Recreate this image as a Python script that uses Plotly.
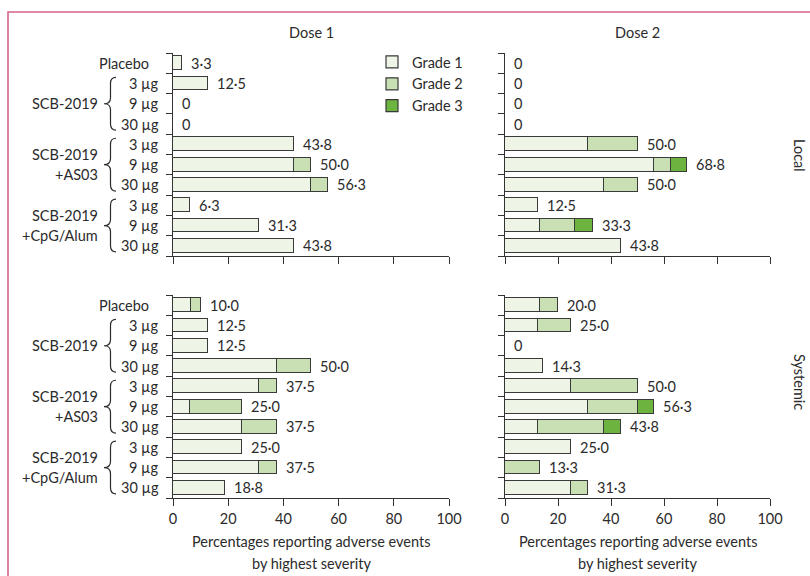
import plotly.graph_objects as go

# Row labels (top to bottom) shared by every panel
row_labels = ["Placebo", "3 µg", "9 µg", "30 µg", "3 µg", "9 µg", "30 µg", "3 µg", "9 µg", "30 µg"]
# Vaccine groups: (label lines, first row, last row)
groups = [
    (["SCB-2019"], 1, 3),
    (["SCB-2019", "+AS03"], 4, 6),
    (["SCB-2019", "+CpG/Alum"], 7, 9),
]
grade_names = ["Grade 1", "Grade 2", "Grade 3"]
grade_colors = ["#eef5e7", "#c9e0b4", "#6cb33f"]

# Percentages reporting adverse events by highest severity
local_dose1_g1 = [3.3, 12.5, 0, 0, 43.8, 43.8, 50.0, 6.3, 31.3, 43.8]
local_dose1_g2 = [0, 0, 0, 0, 0, 6.2, 6.3, 0, 0, 0]
local_dose1_g3 = [0, 0, 0, 0, 0, 0, 0, 0, 0, 0]

local_dose2_g1 = [0, 0, 0, 0, 31.3, 56.3, 37.5, 12.5, 13.3, 43.8]
local_dose2_g2 = [0, 0, 0, 0, 18.7, 6.2, 12.5, 0, 13.3, 0]
local_dose2_g3 = [0, 0, 0, 0, 0, 6.3, 0, 0, 6.7, 0]

systemic_dose1_g1 = [6.7, 12.5, 12.5, 37.5, 31.3, 6.3, 25.0, 25.0, 31.3, 18.8]
systemic_dose1_g2 = [3.3, 0, 0, 12.5, 6.2, 18.7, 12.5, 0, 6.2, 0]
systemic_dose1_g3 = [0, 0, 0, 0, 0, 0, 0, 0, 0, 0]

systemic_dose2_g1 = [13.3, 12.5, 0, 14.3, 25.0, 31.3, 12.5, 25.0, 0, 25.0]
systemic_dose2_g2 = [6.7, 12.5, 0, 0, 25.0, 18.7, 25.0, 0, 13.3, 6.3]
systemic_dose2_g3 = [0, 0, 0, 0, 0, 6.3, 6.3, 0, 0, 0]

x_ticks = [0, 20, 40, 60, 80, 100]

FONT = "Lato"
FS = 14.5
TXT = "#2b2b2b"
LINE = "#333333"
W, H = 810, 576

# Panel placement in pixels: (left, right, top, bottom)
panels = [
    dict(data=[local_dose1_g1, local_dose1_g2, local_dose1_g3], box=(173, 449, 53, 256), xa="x", ya="y", labels_left=True, xticklabels=False),
    dict(data=[local_dose2_g1, local_dose2_g2, local_dose2_g3], box=(505, 770, 53, 256), xa="x2", ya="y2", labels_left=False, xticklabels=False),
    dict(data=[systemic_dose1_g1, systemic_dose1_g2, systemic_dose1_g3], box=(173, 449, 295, 498), xa="x3", ya="y3", labels_left=True, xticklabels=True),
    dict(data=[systemic_dose2_g1, systemic_dose2_g2, systemic_dose2_g3], box=(505, 770, 295, 498), xa="x4", ya="y4", labels_left=False, xticklabels=True),
]


def px_x(p):
    return p / W


def px_y(p):
    return 1 - p / H


def fmt(v):
    return "0" if round(v, 1) == 0 else f"{v:.1f}".replace(".", "·")


def text_font(size=FS):
    return dict(family=FONT, size=size, color=TXT)


fig = go.Figure()
annotations = []
shapes = []
rows = list(range(len(row_labels)))

for pi, p in enumerate(panels):
    for gi in range(3):
        vals = [v if v > 0 else None for v in p["data"][gi]]
        fig.add_trace(go.Bar(
            x=vals, y=rows, orientation="h", width=0.68,
            name=grade_names[gi], legendgroup=grade_names[gi], showlegend=(pi == 0),
            marker=dict(color=grade_colors[gi], line=dict(color="#3a3a3a", width=1.2)),
            xaxis=p["xa"], yaxis=p["ya"], hoverinfo="skip",
        ))
    totals = [sum(vals) for vals in zip(*p["data"])]
    for r, t in zip(rows, totals):
        annotations.append(dict(
            x=t, y=r, xref=p["xa"], yref=p["ya"], text=fmt(t), showarrow=False,
            xanchor="left", yanchor="middle", xshift=7, font=text_font(),
        ))

    l, rgt, top, bot = p["box"]
    n = p["xa"][1:] or ""
    yn = p["ya"][1:] or ""
    fig.layout["xaxis" + n] = dict(
        domain=[px_x(l), px_x(rgt)], anchor=p["ya"], range=[0, 100], automargin=False,
        tickvals=x_ticks, showticklabels=p["xticklabels"], ticks="outside", ticklen=7,
        tickwidth=1.2, tickcolor=LINE, showline=True, linecolor=LINE, linewidth=1.2,
        showgrid=False, zeroline=False, fixedrange=True,
        tickfont=text_font(),
    )
    fig.layout["yaxis" + yn] = dict(
        domain=[px_y(bot), px_y(top)], anchor=p["xa"], range=[9.5, -0.5], automargin=False,
        tickvals=[r - 0.5 for r in rows] + [9.5], showticklabels=False,
        ticks="outside", ticklen=6, tickwidth=1.2, tickcolor=LINE,
        showline=True, linecolor=LINE, linewidth=1.2,
        showgrid=False, zeroline=False, fixedrange=True,
    )

    if p["labels_left"]:
        for r, lab in zip(rows, row_labels):
            right_edge = 151 if r == 0 else 161
            annotations.append(dict(
                x=px_x(right_edge), y=r, xref="paper", yref=p["ya"], text=lab, showarrow=False,
                xanchor="right", yanchor="middle", font=text_font(),
            ))
        for lines, r0, r1 in groups:
            mid = (r0 + r1) / 2
            offs = [0] if len(lines) == 1 else [-0.5, 0.5]
            for line, o in zip(lines, offs):
                annotations.append(dict(
                    x=px_x(100), y=mid + o, xref="paper", yref=p["ya"], text=line, showarrow=False,
                    xanchor="right", yanchor="middle", font=text_font(),
                ))
            # curly brace spanning the group's rows
            xr, xs, xt = px_x(116), px_x(110.5), px_x(104)
            y0, y1, c = r0 - 0.3, r1 + 0.3, 0.3
            path = (f"M {xr},{y0} Q {xs},{y0} {xs},{y0 + c} L {xs},{mid - c} "
                    f"Q {xs},{mid} {xt},{mid} Q {xs},{mid} {xs},{mid + c} "
                    f"L {xs},{y1 - c} Q {xs},{y1} {xr},{y1}")
            shapes.append(dict(type="path", path=path, xref="paper", yref=p["ya"],
                               line=dict(color=TXT, width=1.2)))

# Column titles
for label, cx in [("Dose 1", 311), ("Dose 2", 637.5)]:
    annotations.append(dict(x=px_x(cx), y=px_y(33), xref="paper", yref="paper", text=label,
                            xanchor="center", yanchor="middle", showarrow=False, font=text_font()))
# Row titles
for label, cy in [("Local", 155), ("Systemic", 382)]:
    annotations.append(dict(x=px_x(800), y=px_y(cy), xref="paper", yref="paper", text=label,
                            xanchor="center", yanchor="middle", textangle=90, showarrow=False,
                            font=text_font()))
# x-axis titles
for cx in [311, 637.5]:
    for text, cy in [("Percentages reporting adverse events", 541), ("by highest severity", 563)]:
        annotations.append(dict(x=px_x(cx), y=px_y(cy), xref="paper", yref="paper", text=text,
                                xanchor="center", yanchor="middle", showarrow=False, font=text_font()))

# Frame along the top and left edges
shapes.append(dict(type="path", xref="paper", yref="paper",
                   path=f"M {px_x(8)},0 L {px_x(8)},{px_y(12)} L 1,{px_y(12)}",
                   line=dict(color="#d5668c", width=1.6)))

fig.update_layout(
    template="none",
    width=W, height=H, autosize=False, margin=dict(l=0, r=0, t=0, b=0, pad=0),
    paper_bgcolor="white", plot_bgcolor="white",
    barmode="stack", bargap=0,
    font=text_font(),
    annotations=annotations, shapes=shapes,
    legend=dict(x=px_x(372), y=px_y(46), xanchor="left", yanchor="top",
                font=text_font(), bgcolor="rgba(0,0,0,0)", tracegroupgap=0,
                traceorder="normal", itemclick=False, itemdoubleclick=False),
    showlegend=True,
)

fig.write_html("out.html", config={"displayModeBar": False, "responsive": False})
